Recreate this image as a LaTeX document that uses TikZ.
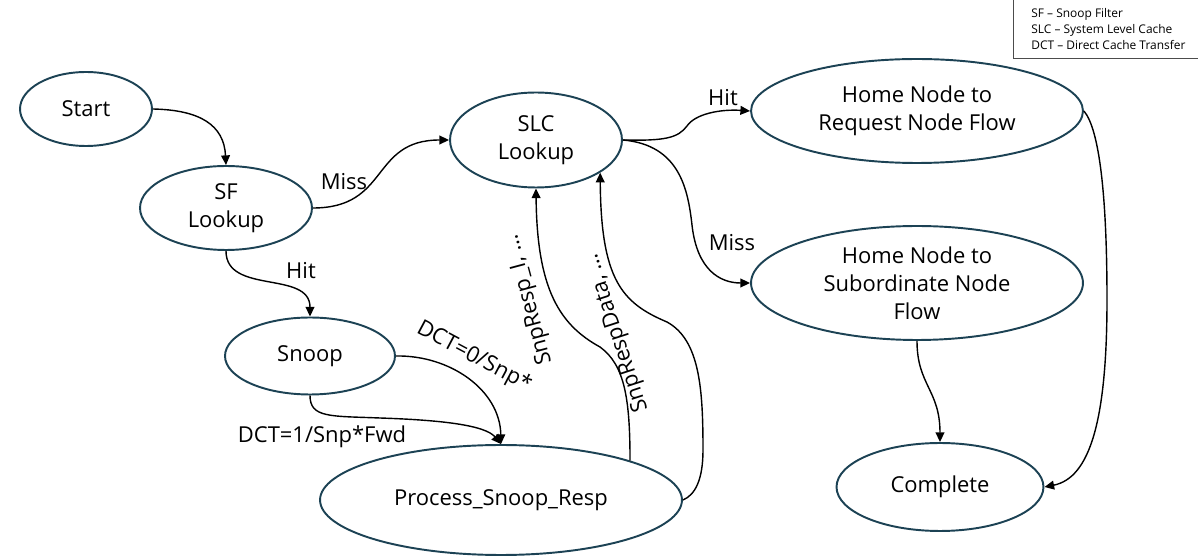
\documentclass[tikz,border=0pt]{standalone}
\usepackage{fontspec}
\setmainfont{Open Sans}
\usetikzlibrary{shapes.geometric,arrows.meta}
\definecolor{ellc}{RGB}{28,66,84}
\begin{document}
\begin{tikzpicture}[x=0.02cm,y=-0.02cm,
  state/.style={ellipse,draw=ellc,line width=1.1pt,inner sep=0pt,align=center,font=\fontsize{12.5}{16}\selectfont},
  conn/.style={draw,line width=0.8pt,-{Triangle[length=5.5pt,width=5pt]}},
  lab/.style={font=\fontsize{12.5}{14}\selectfont,inner sep=1pt}
]
\useasboundingbox (0,0) rectangle (1198,560);
% legend
\draw[gray!60!black,line width=0.5pt] (1013,-5) rectangle (1205,58);
\node[anchor=north west,align=left,inner sep=0pt,font=\fontsize{6.8}{9.2}\selectfont] (legend) at (1031,8)
  {SF – Snoop Filter\\SLC – System Level Cache\\DCT – Direct Cache Transfer};
% states
\node[state,minimum width=2.64cm,minimum height=1.48cm] (start) at (86,109) {Start};
\node[state,minimum width=3.44cm,minimum height=1.68cm] (sf) at (226,208) {SF\\Lookup};
\node[state,minimum width=3.40cm,minimum height=1.54cm] (snoop) at (310,356) {Snoop};
\node[state,minimum width=7.24cm,minimum height=2.2cm] (psr) at (501,500) {Process\_Snoop\_Resp};
\node[state,minimum width=3.44cm,minimum height=1.9cm] (slc) at (536,140) {SLC\\Lookup};
\node[state,minimum width=6.64cm,minimum height=2.08cm] (hreq) at (917,111) {Home Node to\\Request Node Flow};
\node[state,minimum width=6.64cm,minimum height=2.28cm] (hsub) at (917,283) {Home Node to\\Subordinate Node\\Flow};
\node[state,minimum width=4.14cm,minimum height=1.76cm] (complete) at (940,487) {Complete};
% connectors
\draw[conn] (start.east) .. controls (200,110) and (224,125) .. (sf.north);
\draw[conn] (sf.east) .. controls (390,208) and (370,140) .. (slc.west);
\draw[conn] (sf.south) .. controls (226,295) and (310,270) .. (snoop.north);
\draw[conn] (snoop.east) .. controls (450,355) and (500,390) .. (psr.north);
\draw[conn] (snoop.south) .. controls (310,418) and (330,416) .. (380,418)
  .. controls (440,420) and (485,425) .. (psr.north);
\draw[conn] (psr.17) .. controls (630,400) and (625,365) .. (600,347)
  .. controls (560,325) and (537,290) .. (slc.south);
\draw[conn] (psr.east) .. controls (695,495) and (703,480) .. (703,450)
  .. controls (703,390) and (700,340) .. (667,322)
  .. controls (622,303) and (601,280) .. (slc.-27);
\draw[conn] (slc.east) .. controls (665,141) and (678,138) .. (687,126)
  .. controls (695,114) and (720,109) .. (hreq.west);
\draw[conn] (slc.east) .. controls (680,145) and (688,190) .. (692,225)
  .. controls (697,270) and (720,283) .. (hsub.west);
\draw[conn] (hreq.east) .. controls (1100,130) and (1107,200) .. (1107,300)
  .. controls (1107,420) and (1090,478) .. (complete.east);
\draw[conn] (hsub.south) .. controls (917,385) and (940,390) .. (complete.north);
% labels
\node[lab] (lmiss1) at (344,182) {Miss};
\node[lab] (lhit1) at (301,271) {Hit};
\node[lab,rotate=-28] (ldct0) at (474,357) {DCT=0/Snp*};
\node[lab] (ldct1) at (322,437) {DCT=1/Snp*Fwd};
\node[lab,rotate=105] (lsr) at (529,300) {SnpResp\_I, …};
\node[lab,rotate=108] (lsrd) at (617,333) {SnpRespData, …};
\node[lab] (lhit2) at (723,98) {Hit};
\node[lab] (lmiss2) at (732,243) {Miss};
\end{tikzpicture}
\end{document}
